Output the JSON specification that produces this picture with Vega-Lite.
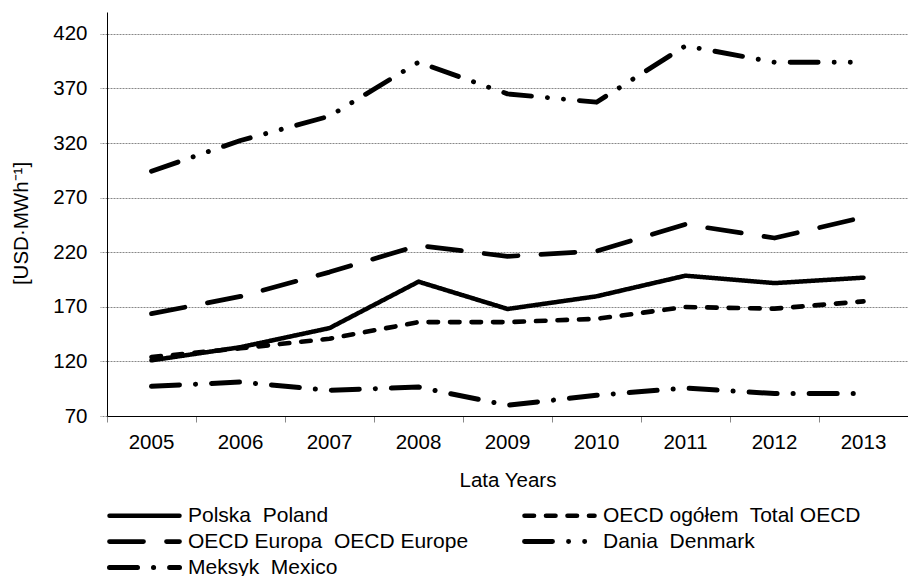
{
  "$schema": "https://vega.github.io/schema/vega-lite/v6.json",
  "width": 801,
  "height": 404,
  "autosize": {"type": "none"},
  "padding": {"left": 107, "top": 12, "right": 0, "bottom": 160},
  "background": "white",
  "config": {
    "font": "Liberation Sans",
    "view": {"stroke": null},
    "legend": {
      "orient": "none",
      "legendX": 25,
      "legendY": 491,
      "direction": "horizontal",
      "columns": 2,
      "padding": 0,
      "labelFont": "Liberation Sans",
      "labelFontSize": 21,
      "labelColor": "black",
      "labelLimit": 400,
      "symbolType": "M-3.5,0H3.5",
      "symbolSize": 400,
      "symbolStrokeColor": "black",
      "labelOffset": 31,
      "columnPadding": 45,
      "rowPadding": 3
    }
  },
  "data": {
    "values": [
      {"year": "2005", "series": "Polska\u00a0 Poland", "value": 121},
      {"year": "2006", "series": "Polska\u00a0 Poland", "value": 133},
      {"year": "2007", "series": "Polska\u00a0 Poland", "value": 150.5},
      {"year": "2008", "series": "Polska\u00a0 Poland", "value": 193},
      {"year": "2009", "series": "Polska\u00a0 Poland", "value": 168},
      {"year": "2010", "series": "Polska\u00a0 Poland", "value": 179.6},
      {"year": "2011", "series": "Polska\u00a0 Poland", "value": 198.5},
      {"year": "2012", "series": "Polska\u00a0 Poland", "value": 191.7},
      {"year": "2013", "series": "Polska\u00a0 Poland", "value": 196.7},
      {"year": "2005", "series": "OECD ogółem\u00a0 Total OECD", "value": 124},
      {"year": "2006", "series": "OECD ogółem\u00a0 Total OECD", "value": 132},
      {"year": "2007", "series": "OECD ogółem\u00a0 Total OECD", "value": 140.8},
      {"year": "2008", "series": "OECD ogółem\u00a0 Total OECD", "value": 156},
      {"year": "2009", "series": "OECD ogółem\u00a0 Total OECD", "value": 156},
      {"year": "2010", "series": "OECD ogółem\u00a0 Total OECD", "value": 159},
      {"year": "2011", "series": "OECD ogółem\u00a0 Total OECD", "value": 169.8},
      {"year": "2012", "series": "OECD ogółem\u00a0 Total OECD", "value": 168.3},
      {"year": "2013", "series": "OECD ogółem\u00a0 Total OECD", "value": 175},
      {"year": "2005", "series": "OECD Europa\u00a0 OECD Europe", "value": 163.7},
      {"year": "2006", "series": "OECD Europa\u00a0 OECD Europe", "value": 179.5},
      {"year": "2007", "series": "OECD Europa\u00a0 OECD Europe", "value": 201.8},
      {"year": "2008", "series": "OECD Europa\u00a0 OECD Europe", "value": 226.2},
      {"year": "2009", "series": "OECD Europa\u00a0 OECD Europe", "value": 216.2},
      {"year": "2010", "series": "OECD Europa\u00a0 OECD Europe", "value": 221},
      {"year": "2011", "series": "OECD Europa\u00a0 OECD Europe", "value": 245.5},
      {"year": "2012", "series": "OECD Europa\u00a0 OECD Europe", "value": 233},
      {"year": "2013", "series": "OECD Europa\u00a0 OECD Europe", "value": 252},
      {"year": "2005", "series": "Dania\u00a0 Denmark", "value": 294.2},
      {"year": "2006", "series": "Dania\u00a0 Denmark", "value": 322.3},
      {"year": "2007", "series": "Dania\u00a0 Denmark", "value": 344.6},
      {"year": "2008", "series": "Dania\u00a0 Denmark", "value": 394},
      {"year": "2009", "series": "Dania\u00a0 Denmark", "value": 365},
      {"year": "2010", "series": "Dania\u00a0 Denmark", "value": 357.4},
      {"year": "2011", "series": "Dania\u00a0 Denmark", "value": 409},
      {"year": "2012", "series": "Dania\u00a0 Denmark", "value": 394},
      {"year": "2013", "series": "Dania\u00a0 Denmark", "value": 394},
      {"year": "2005", "series": "Meksyk\u00a0 Mexico", "value": 97.2},
      {"year": "2006", "series": "Meksyk\u00a0 Mexico", "value": 101.1},
      {"year": "2007", "series": "Meksyk\u00a0 Mexico", "value": 93.5},
      {"year": "2008", "series": "Meksyk\u00a0 Mexico", "value": 96.5},
      {"year": "2009", "series": "Meksyk\u00a0 Mexico", "value": 79.8},
      {"year": "2010", "series": "Meksyk\u00a0 Mexico", "value": 89},
      {"year": "2011", "series": "Meksyk\u00a0 Mexico", "value": 95.6},
      {"year": "2012", "series": "Meksyk\u00a0 Mexico", "value": 90.5},
      {"year": "2013", "series": "Meksyk\u00a0 Mexico", "value": 90.5}
    ]
  },
  "mark": {"type": "line", "color": "black", "strokeCap": "round", "strokeJoin": "round"},
  "encoding": {
    "x": {
      "field": "year",
      "type": "ordinal",
      "scale": {"type": "band", "paddingInner": 0, "paddingOuter": 0},
      "axis": {
        "title": "Lata Years",
        "bandPosition": 0,
        "labelAngle": 0,
        "grid": false,
        "domainColor": "black",
        "domainWidth": 1,
        "tickColor": "#888888",
        "tickSize": 6,
        "labelFontSize": 20.5,
        "labelColor": "black",
        "labelBaseline": "alphabetic",
        "labelPadding": 26,
        "titleFontSize": 20.5,
        "titleFontWeight": "normal",
        "titleColor": "black",
        "titleY": 70,
        "titleBaseline": "alphabetic"
      }
    },
    "y": {
      "field": "value",
      "type": "quantitative",
      "scale": {"domain": [70, 440], "nice": false, "zero": false},
      "axis": {
        "title": "[USD·MWh⁻¹]",
        "values": [70, 120, 170, 220, 270, 320, 370, 420],
        "grid": true,
        "gridColor": "#888888",
        "gridDash": [2, 1],
        "gridWidth": 1,
        "tickColor": "#888888",
        "tickDash": [2, 1],
        "tickSize": 7,
        "domainColor": "black",
        "domainWidth": 1,
        "labelFontSize": 20.5,
        "labelColor": "black",
        "labelPadding": 13,
        "titleFontSize": 20.5,
        "titleFontWeight": "normal",
        "titleColor": "black",
        "titleAngle": 270,
        "titleAlign": "center",
        "titleBaseline": "alphabetic",
        "titleX": -80,
        "titleY": 211
      }
    },
    "strokeDash": {
      "field": "series",
      "type": "nominal",
      "scale": {
        "domain": ["Polska\u00a0 Poland", "OECD ogółem\u00a0 Total OECD", "OECD Europa\u00a0 OECD Europe", "Dania\u00a0 Denmark", "Meksyk\u00a0 Mexico"],
        "range": [[1, 0], [9.5, 12], [34, 23], [28, 16, 0.1, 16, 0.1, 16], [28, 16, 0.1, 16]]
      },
      "legend": {
        "title": null,
        "encode": {"symbols": {"update": {"strokeCap": {"value": "round"}}}}
      }
    },
    "strokeWidth": {
      "field": "series",
      "type": "nominal",
      "scale": {
        "domain": ["Polska\u00a0 Poland", "OECD ogółem\u00a0 Total OECD", "OECD Europa\u00a0 OECD Europe", "Dania\u00a0 Denmark", "Meksyk\u00a0 Mexico"],
        "range": [4.5, 5, 5, 4, 4]
      },
      "legend": {
        "title": null,
        "encode": {"symbols": {"update": {"strokeCap": {"value": "round"}}}}
      }
    }
  }
}
